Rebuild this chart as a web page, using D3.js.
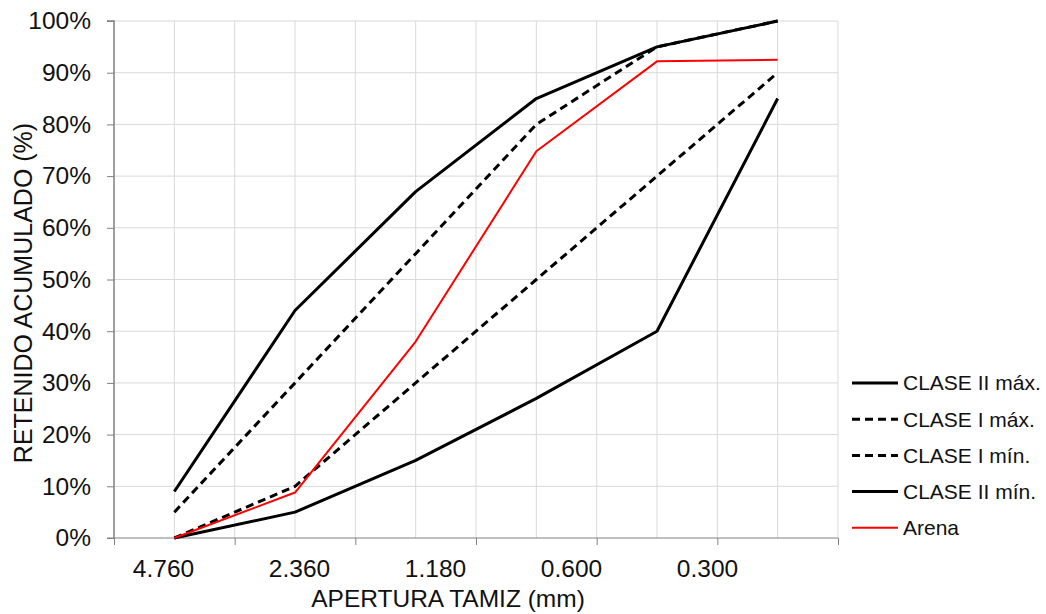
<!DOCTYPE html>
<html>
<head>
<meta charset="utf-8">
<script src="https://cdn.jsdelivr.net/npm/d3@7"></script>
<style>
  body { margin: 0; background: #fff; }
  svg { display: block; font-family: "Liberation Sans", Arial, sans-serif; }
</style>
</head>
<body>
<svg id="chart" width="1046" height="614"></svg>
<script>
// tamices (categorias del eje x) y etiquetas visibles
const sieves = ["4.760", "2.360", "1.180", "0.600", "0.300", "0.150"]
const tickLabels = ["4.760", "2.360", "1.180", "0.600", "0.300"]
const yTicks = [0, 10, 20, 30, 40, 50, 60, 70, 80, 90, 100]

// % retenido acumulado
const claseIIMax = [9, 44, 67, 85, 95, 100]
const claseIMax = [5, 30, 55, 80, 95, 100]
const claseIMin = [0, 10, 30, 50, 70, 90]
const claseIIMin = [0, 5, 15, 27, 40, 85]
const arena = [0, 8.8, 38, 74.8, 92.2, 92.5]

const seriesNames = ["CLASE II máx.", "CLASE I máx.", "CLASE I mín.", "CLASE II mín.", "Arena"]
const seriesValues = [claseIIMax, claseIMax, claseIMin, claseIIMin, arena]

const styles = [
  {color: "#000", width: 3, dash: null},
  {color: "#000", width: 3, dash: "8,5"},
  {color: "#000", width: 3, dash: "8,5"},
  {color: "#000", width: 3, dash: null},
  {color: "#ff0000", width: 2, dash: null}
]

const margin = {top: 21, right: 208, bottom: 76, left: 114}
const svg = d3.select('#chart')
const W = +svg.attr('width'), H = +svg.attr('height')
const w = W - margin.left - margin.right
const h = H - margin.top - margin.bottom

const g = svg.append('g').attr('transform', `translate(${margin.left},${margin.top})`)

const x = d3.scaleBand().domain(sieves).range([0, w])
const xc = d => x(d) + x.bandwidth() / 2
const edge = d3.scaleLinear().domain([0, sieves.length * 2]).range([0, w])
const labelX = d3.scalePoint().domain(tickLabels).range([49, 593])
const y = d3.scaleLinear().domain([0, 100]).range([h, 0])

// rejilla
g.append('g')
  .selectAll('line.v')
  .data(d3.range(1, sieves.length * 2 + 1))
  .join('line')
  .attr('x1', d => edge(d)).attr('x2', d => edge(d))
  .attr('y1', 0).attr('y2', h)
  .attr('stroke', '#d9d9d9').attr('stroke-width', 1)

g.append('g')
  .selectAll('line.h')
  .data(yTicks.slice(1))
  .join('line')
  .attr('x1', 0).attr('x2', w)
  .attr('y1', d => y(d)).attr('y2', d => y(d))
  .attr('stroke', '#d9d9d9').attr('stroke-width', 1)

// eje y
const yAxis = g.append('g')
  .call(d3.axisLeft(y).tickValues(yTicks).tickSize(7).tickPadding(16).tickFormat(d => d + '%'))
yAxis.select('.domain').attr('stroke', '#808080').attr('stroke-width', 1.5).attr('d', `M-7,0H0V${h}`)
yAxis.selectAll('.tick line').attr('stroke', '#808080')
yAxis.selectAll('.tick text').attr('font-size', 24.5).attr('fill', '#111').attr('font-family', '"Liberation Sans", Arial, sans-serif')

// eje x: marcas entre categorias
const xAxis = g.append('g')
  .attr('transform', `translate(0,${h})`)
  .call(d3.axisBottom(edge).tickValues(d3.range(0, sieves.length * 2 + 1, 2)).tickSize(7).tickFormat(''))
xAxis.select('.domain').attr('stroke', '#808080').attr('d', `M-7,0H${w}`)
xAxis.selectAll('.tick line').attr('stroke', '#808080')

// etiquetas del eje x
const xLabels = g.append('g')
  .attr('transform', `translate(0,${h})`)
  .call(d3.axisBottom(labelX).tickSize(0).tickPadding(22))
xLabels.select('.domain').remove()
xLabels.selectAll('.tick text').attr('font-size', 24.5).attr('fill', '#111').attr('font-family', '"Liberation Sans", Arial, sans-serif')

// lineas
const line = d3.line()
  .x((d, i) => xc(sieves[i]))
  .y(d => y(d))

g.append('g')
  .selectAll('path')
  .data(seriesValues)
  .join('path')
  .attr('d', d => line(d))
  .attr('fill', 'none')
  .attr('stroke', (d, i) => styles[i].color)
  .attr('stroke-width', (d, i) => styles[i].width)
  .attr('stroke-dasharray', (d, i) => styles[i].dash)
  .attr('stroke-linejoin', 'round')

// titulos
svg.append('text')
  .attr('transform', 'translate(32,293) rotate(-90)')
  .attr('text-anchor', 'middle')
  .attr('font-size', 25)
  .attr('fill', '#111')
  .text('RETENIDO ACUMULADO (%)')

svg.append('text')
  .attr('x', 448)
  .attr('y', 607)
  .attr('text-anchor', 'middle')
  .attr('font-size', 24.5)
  .attr('fill', '#111')
  .text('APERTURA TAMIZ (mm)')

// leyenda
const legend = svg.append('g').attr('transform', 'translate(852,383)')
const item = legend.selectAll('g')
  .data(seriesNames)
  .join('g')
  .attr('transform', (d, i) => `translate(0,${i * 36.2})`)
item.append('line')
  .attr('x1', 0).attr('x2', 46)
  .attr('stroke', (d, i) => styles[i].color)
  .attr('stroke-width', (d, i) => styles[i].width)
  .attr('stroke-dasharray', (d, i) => styles[i].dash)
item.append('text')
  .attr('x', 51)
  .attr('dy', '0.35em')
  .attr('font-size', 21)
  .attr('fill', '#111')
  .text(d => d)
</script>
</body>
</html>
